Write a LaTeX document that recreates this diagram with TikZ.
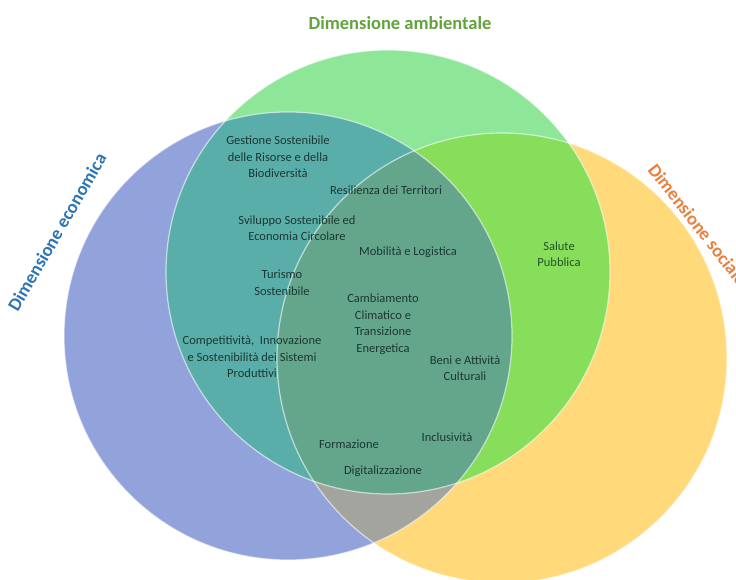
\documentclass[tikz,border=0pt]{standalone}
\usepackage{fontspec}
\setmainfont{Carlito}
\definecolor{cY}{RGB}{255,217,122}
\definecolor{cG}{RGB}{142,230,152}
\definecolor{cB}{RGB}{146,163,219}
\definecolor{cBG}{RGB}{90,174,170}
\definecolor{cGY}{RGB}{135,222,90}
\definecolor{cBY}{RGB}{163,164,158}
\definecolor{cBGY}{RGB}{100,166,140}
\definecolor{txt}{RGB}{28,55,50}
\definecolor{txtG}{RGB}{38,82,38}
\definecolor{cAmb}{RGB}{98,163,60}
\definecolor{cEco}{RGB}{46,117,182}
\definecolor{cSoc}{RGB}{232,128,62}
\begin{document}
\begin{tikzpicture}[x=1pt,y=1pt,
  lbl/.style={font=\fontsize{12.5}{16.5}\selectfont, text=txt, align=center, inner sep=0pt},
  ttl/.style={font=\fontsize{18.5}{22}\selectfont\bfseries, inner sep=0pt},
  rim/.style={draw=white, draw opacity=.6, line width=1.2pt}]
\useasboundingbox (0,0) rectangle (736,580);
\fill[white] (0,0) rectangle (736,580);
\begin{scope}
\clip (0,0) rectangle (736,580);
% base circles
\fill[cY] (502,222) circle[radius=225];
\fill[cG] (388,308) circle[radius=222];
\fill[cB] (288,244) circle[radius=224];
% overlaps with yellow
\begin{scope}
  \clip (502,222) circle[radius=225];
  \fill[cGY] (388,308) circle[radius=222];
  \fill[cBY] (288,244) circle[radius=224];
\end{scope}
% overlaps with green
\begin{scope}
  \clip (388,308) circle[radius=222];
  \fill[cBG] (288,244) circle[radius=224];
  \clip (502,222) circle[radius=225];
  \fill[cBGY] (288,244) circle[radius=224];
\end{scope}
% rims
\path[rim] (502,222) circle[radius=225];
\path[rim] (388,308) circle[radius=222];
\path[rim] (288,244) circle[radius=224];
% titles
\node[ttl, text=cAmb] (amb) at (400,557) {Dimensione ambientale};
\node[ttl, text=cEco, rotate=60] (eco) at (57,348) {Dimensione economica};
\node[ttl, text=cSoc, rotate=-52, anchor=west] (soc) at (652,414) {Dimensione sociale};
% labels
\node[lbl] (gest) at (278,423) {Gestione Sostenibile\\delle Risorse e della\\Biodiversità};
\node[lbl] (resil) at (386,390) {Resilienza dei Territori};
\node[lbl] (svil) at (297,352) {Sviluppo Sostenibile ed\\Economia Circolare};
\node[lbl] (mob) at (408,328) {Mobilità e Logistica};
\node[lbl] (tur) at (282,297) {Turismo\\Sostenibile};
\node[lbl] (camb) at (383,256) {Cambiamento\\Climatico e\\Transizione\\Energetica};
\node[lbl] (comp) at (252,223) {Competitività,~ Innovazione\\e Sostenibilità dei Sistemi\\Produttivi};
\node[lbl] (beni) at (465,212) {Beni e Attività\\Culturali};
\node[lbl, text=txtG] (salute) at (559,326) {Salute\\Pubblica};
\node[lbl] (incl) at (447,143) {Inclusività};
\node[lbl] (form) at (349,136) {Formazione};
\node[lbl] (digi) at (383,109) {Digitalizzazione};
\end{scope}
\end{tikzpicture}
\end{document}
